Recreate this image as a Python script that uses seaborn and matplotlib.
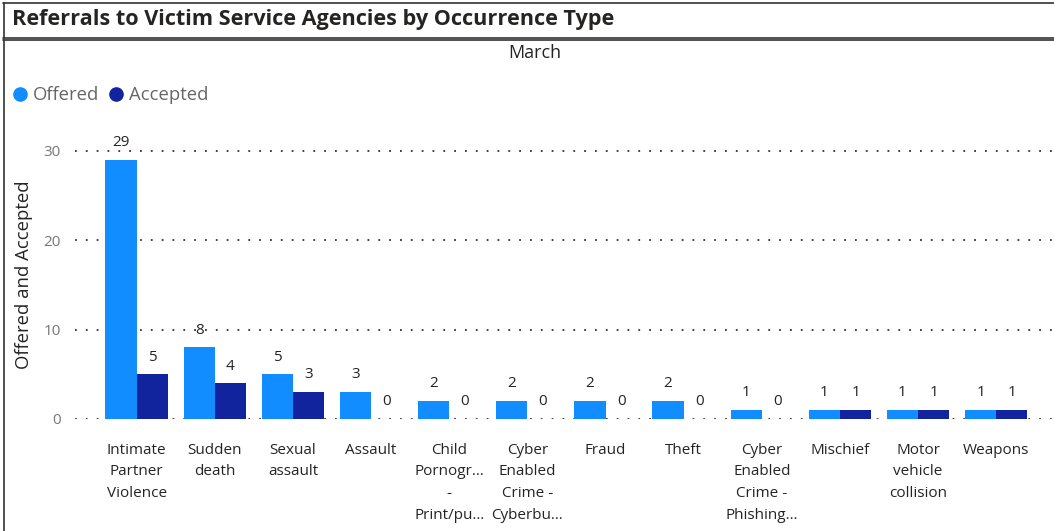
import numpy as np
import pandas as pd
import matplotlib
matplotlib.use("Agg")
import matplotlib.pyplot as plt
import seaborn as sns
from matplotlib.lines import Line2D

# --- data ---
categories = [
    "Intimate\nPartner\nViolence", "Sudden\ndeath", "Sexual\nassault", "Assault",
    "Child\nPornogr…\n-\nPrint/pu…", "Cyber\nEnabled\nCrime -\nCyberbu…", "Fraud", "Theft",
    "Cyber\nEnabled\nCrime -\nPhishing…", "Mischief", "Motor\nvehicle\ncollision", "Weapons",
]
offered = [29, 8, 5, 3, 2, 2, 2, 2, 1, 1, 1, 1]
accepted = [5, 4, 3, 0, 0, 0, 0, 0, 0, 1, 1, 1]
series = ["Offered", "Accepted"]
colors = {"Offered": "#118DFF", "Accepted": "#12239E"}

df = pd.DataFrame({
    "category": categories * 2,
    "series": ["Offered"] * len(categories) + ["Accepted"] * len(categories),
    "value": offered + accepted,
})

sns.set_theme(style="white")
plt.rcParams["font.family"] = ["Open Sans", "DejaVu Sans"]

W, H = 1054, 531
fig = plt.figure(figsize=(W / 100, H / 100), dpi=100)
ax = fig.add_axes([75 / W, 1 - 419 / H, 1 - 75 / W, (419 - 124) / H])

sns.barplot(data=df, x="category", y="value", hue="series", hue_order=series,
            palette=colors, order=categories, width=0.8, saturation=1,
            linewidth=0, legend=False, ax=ax, zorder=3)

ax.set_ylim(0, 33)
ax.set_xlim(-0.79, 11.74)
ax.set_yticks([0, 10, 20, 30])
for v in [0, 10, 20, 30]:
    ax.axhline(v, color="#333333", linestyle=(0, (1, 5)), linewidth=1.3, zorder=1)
for s in ax.spines.values():
    s.set_visible(False)

ax.tick_params(axis="y", length=0, pad=10, labelsize=11, labelcolor="#777777")
ax.tick_params(axis="x", length=0, pad=17, labelsize=11, labelcolor="#252423")
for lab in ax.get_xticklabels():
    lab.set_linespacing(1.62)
    lab.set_verticalalignment("top")
ax.set_xlabel("")
ax.set_ylabel("Offered and Accepted", fontsize=13.3, color="#252423")
ax.yaxis.set_label_coords(-(75 - 33) / (W - 75), 0.49)

for cont in ax.containers:
    ax.bar_label(cont, fmt="%d", padding=7, fontsize=11, color="#252423")

# title band and panel frame
fig.text(12 / W, 1 - 19 / H, "Referrals to Victim Service Agencies by Occurrence Type",
         fontsize=15.6, fontweight="bold", color="#252423", va="center", ha="left")
fig.text(535 / W, 1 - 53 / H, "March", fontsize=13, color="#252423", ha="center", va="center")

for y in [3, 38, 40]:
    fig.add_artist(Line2D([3 / W, 1], [1 - y / H] * 2, color="#333333", linewidth=1.2))
fig.add_artist(Line2D([3.5 / W] * 2, [1 - 3 / H, 1 - 38 / H], color="#333333", linewidth=1.2))
fig.add_artist(Line2D([3.5 / W] * 2, [0, 1 - 40 / H], color="#333333", linewidth=1.2))

# legend
handles = [Line2D([], [], marker="o", linestyle="", markersize=9.5,
                  markerfacecolor=colors[s], markeredgecolor=colors[s], label=s) for s in series]
fig.legend(handles=handles, loc="center left", bbox_to_anchor=(-6 / W, 1 - 95 / H),
           ncol=2, frameon=False, fontsize=13.3, handletextpad=-0.3, columnspacing=-0.1,
           labelcolor="#666666", borderaxespad=0)

fig.savefig("out.png", dpi=100)
